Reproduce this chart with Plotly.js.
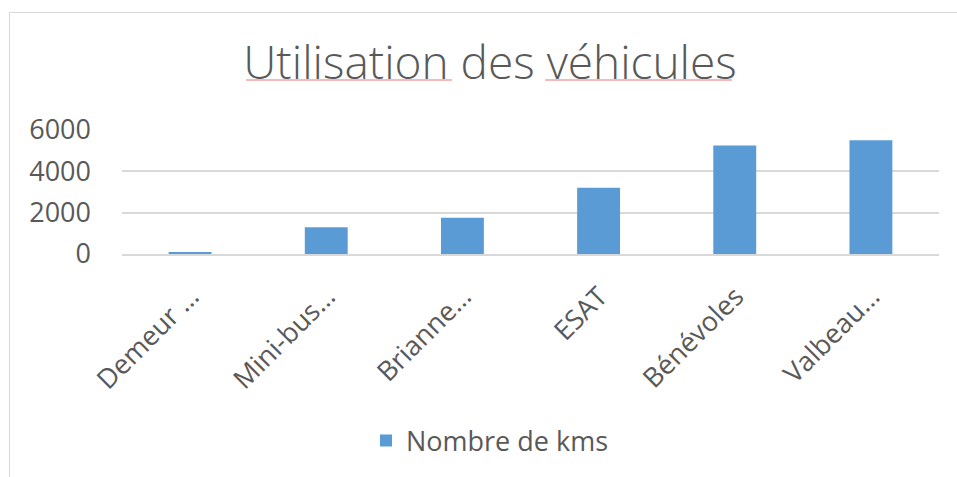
<!DOCTYPE html>
<html>
<head>
<meta charset="utf-8">
<script src="https://cdn.plot.ly/plotly-3.0.1.min.js"></script>
<style>
  html, body { margin: 0; padding: 0; background: #ffffff; }
  #wrap { position: relative; width: 957px; height: 477px; overflow: hidden; }
  #chart { width: 957px; height: 477px; }
  #frame { position: absolute; left: 9px; top: 12px; width: 960px; height: 480px;
           border-left: 1.5px solid #d9d9d9; border-top: 1.5px solid #d9d9d9; pointer-events: none; }
</style>
</head>
<body>
<div id="wrap">
  <div id="chart"></div>
  <div id="frame"></div>
</div>
<script>
const categories = ["Demeur …", "Mini-bus…", "Brianne…", "ESAT", "Bénévoles", "Valbeau…"];
const kms = [100, 1300, 1750, 3200, 5250, 5500];
const seriesName = "Nombre de kms";
const yTicks = [0, 2000, 4000, 6000];
const chartTitle = "Utilisation des véhicules";

const textColor = "#595959";
const fontFam = "'Open Sans', 'Noto Sans', sans-serif";

const trace = {
  type: "bar",
  x: categories,
  y: kms,
  name: seriesName,
  marker: { color: "#5b9bd5" },
  showlegend: true,
  hoverinfo: "x+y"
};

const layout = {
  width: 957,
  height: 477,
  margin: { l: 122, r: 18, t: 130, b: 223 },
  paper_bgcolor: "#ffffff",
  plot_bgcolor: "#ffffff",
  font: { family: fontFam, color: textColor },
  title: {
    text: chartTitle,
    font: { family: fontFam, size: 46, color: textColor, weight: 300 },
    x: 490 / 957, xref: "container", xanchor: "center",
    y: 1 - 63 / 477, yref: "container", yanchor: "middle"
  },
  bargap: 0.685,
  xaxis: {
    type: "category",
    tickangle: -45,
    tickfont: { family: fontFam, size: 27, color: textColor },
    showline: true, linecolor: "#d9d9d9", linewidth: 2,
    showgrid: false, ticks: "",
    ticklabelshift: 1,
    ticklabelstandoff: 14
  },
  yaxis: {
    range: [0, 6000],
    tickvals: yTicks,
    ticktext: yTicks.map(String),
    tickfont: { family: fontFam, size: 27, color: textColor },
    showgrid: true, gridcolor: "#d9d9d9", gridwidth: 2,
    zeroline: false, showline: false, ticks: "",
    ticklabelstandoff: 30
  },
  legend: {
    orientation: "h",
    xref: "container", x: 490 / 957, xanchor: "center",
    yref: "container", y: 1 - 441 / 477, yanchor: "middle",
    font: { family: fontFam, size: 27, color: textColor }
  },
  shapes: [
    { type: "line", xref: "paper", yref: "paper",
      x0: (246 - 122) / 817, x1: (452 - 122) / 817, y0: (254 - 80) / 124, y1: (254 - 80) / 124,
      line: { color: "#f4a3a3", width: 1.5 } },
    { type: "line", xref: "paper", yref: "paper",
      x0: (545 - 122) / 817, x1: (732 - 122) / 817, y0: (254 - 80) / 124, y1: (254 - 80) / 124,
      line: { color: "#f4a3a3", width: 1.5 } }
  ]
};

Plotly.newPlot("chart", [trace], layout, { displayModeBar: false, staticPlot: true });
</script>
</body>
</html>
